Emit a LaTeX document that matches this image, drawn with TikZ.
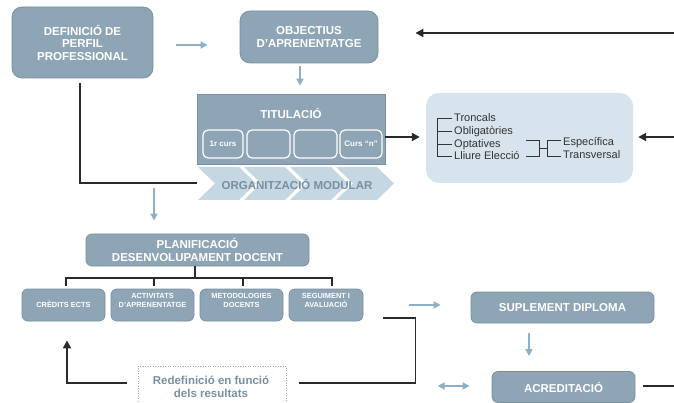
\documentclass[tikz,border=0pt]{standalone}
\usepackage{fontspec}
\setmainfont{Liberation Sans}
\usetikzlibrary{arrows.meta,calc}
\definecolor{boxfill}{HTML}{8EA5B6}
\definecolor{boxdraw}{HTML}{7A909F}
\definecolor{larr}{HTML}{8FAFC6}
\definecolor{chev}{HTML}{C6D7E4}
\definecolor{lightbox}{HTML}{D7E4ED}
\definecolor{modtxt}{HTML}{7890A2}
\definecolor{dark}{HTML}{2A2A2A}
\definecolor{listc}{HTML}{333333}
\begin{document}
\begin{tikzpicture}[x=1pt,y=-1pt,
  box/.style={rectangle, fill=boxfill, draw=boxdraw, line width=0.8pt, inner sep=0pt,
    text=white, font=\fontsize{11.5}{12.5}\selectfont\bfseries, align=center},
  boxtext/.style={inner sep=0pt, text=white, font=\fontsize{11.5}{12.5}\selectfont\bfseries, align=center},
  cursbox/.style={rectangle, rounded corners=5pt, fill=boxfill, draw=white, line width=1.2pt,
    inner sep=0pt, minimum height=28pt, text=white, font=\fontsize{8}{9}\selectfont\bfseries},
  kid/.style={box, rounded corners=6pt, minimum height=32pt},
  kidtext/.style={inner sep=0pt, text=white, font=\fontsize{7.4}{9.8}\selectfont\bfseries, align=center},
  modtext/.style={inner sep=0pt, text=modtxt, font=\fontsize{11.5}{12.5}\selectfont\bfseries},
  listtxt/.style={inner sep=0pt, anchor=west, text=listc, text height=7.9pt, text depth=0pt,
    font=\fontsize{11}{12}\selectfont},
  thinline/.style={draw=listc, line width=0.8pt},
  larrow/.style={draw=larr, line width=1.7pt, -{Triangle[length=7pt,width=7pt]}},
  ldarrow/.style={draw=larr, line width=1.7pt, {Triangle[length=7pt,width=7pt]}-{Triangle[length=7pt,width=7pt]}},
  barrow/.style={draw=dark, line width=1.9pt, -{Triangle[length=8pt,width=8pt]}},
  bline/.style={draw=dark, line width=1.9pt}
]
\useasboundingbox (0,0) rectangle (674,403);

% top row
\node[box, rounded corners=10pt, minimum width=141pt, minimum height=71pt] (def) at (82.5,42.5)
  {DEFINICIÓ DE\\PERFIL\\PROFESSIONAL};
\node[box, rounded corners=10pt, minimum width=138pt, minimum height=52pt] (obj) at (309,37)
  {OBJECTIUS\\D’APRENENTATGE};

% titulacio
\node[box, sharp corners, minimum width=188pt, minimum height=70pt] (tit) at (291,129) {};
\node[boxtext] (titl) at (291,113) {TITULACIÓ};
\node[cursbox, minimum width=40pt] (c1) at (223,144) {1r curs};
\node[cursbox, minimum width=43pt] (c2) at (268.5,144) {};
\node[cursbox, minimum width=43pt] (c3) at (315.5,144) {};
\node[cursbox, minimum width=42pt] (c4) at (361,144) {Curs “n”};

% chevrons
\foreach \i in {0,...,3}{
  \fill[chev] ({198+46*\i},167) -- ++(41,0) -- ++(17,16.5) -- ++(-17,16.5) -- ++(-41,0) -- ++(17,-16.5) -- cycle;
}
\node[modtext] (mod) at (297,184) {ORGANITZACIÓ MODULAR};

% right light box
\node[fill=lightbox, rounded corners=13pt, minimum width=207pt, minimum height=90pt, inner sep=0pt] (rb) at (529.5,138) {};
\node[listtxt] (l1) at (454,118) {Troncals};
\node[listtxt] (l2) at (454,131) {Obligatòries};
\node[listtxt] (l3) at (454,144) {Optatives};
\node[listtxt] (l4) at (454,156) {Lliure Elecció};
\node[listtxt] (e1) at (563,142) {Específica};
\node[listtxt] (e2) at (563,155) {Transversal};
\draw[thinline] ($(l1.west)+(-2,0)$) -- ++(-15,0) |- ($(l4.west)+(-2,0)$);
\draw[thinline] ($(l2.west)+(-2,0)$) -- ++(-15,0);
\draw[thinline] ($(l3.west)+(-2,0)$) -- ++(-15,0);
\draw[thinline] ($(e1.west)+(-37,-2)$) -- ($(e1.west)+(-24,-2)$) -- ($(e2.west)+(-24,1)$) -- ($(e2.west)+(-37,1)$);
\draw[thinline] ($(e1.west)+(-24,6)$) -- ($(e1.west)+(-16,6)$);
\draw[thinline] ($(e1.west)+(-2,-2)$) -- ($(e1.west)+(-16,-2)$) -- ($(e2.west)+(-16,1)$) -- ($(e2.west)+(-2,1)$);

% planificacio
\node[box, rounded corners=6pt, minimum width=223pt, minimum height=32pt] (pla) at (197.5,250)
  {PLANIFICACIÓ\\DESENVOLUPAMENT DOCENT};
\node[kid, minimum width=83pt] (k1) at (63.5,305) {};
\node[kid, minimum width=83pt] (k2) at (152.5,305) {};
\node[kid, minimum width=83pt] (k3) at (241.5,305) {};
\node[kid, minimum width=74pt] (k4) at (326,305) {};
\node[kidtext] (k1t) at (63.5,304) {CRÈDITS ECTS};
\node[kidtext] (k2t) at (152.5,300.5) {ACTIVITATS\\D’APRENENTATGE};
\node[kidtext] (k3t) at (241.5,300.5) {METODOLOGIES\\DOCENTS};
\node[kidtext] (k4t) at (326,300.5) {SEGUIMENT I\\AVALUACIÓ};

% right lower boxes
\node[box, rounded corners=6pt, minimum width=183pt, minimum height=31pt] (sup) at (562.5,307.5) {SUPLEMENT DIPLOMA};
\node[box, rounded corners=6pt, minimum width=143pt, minimum height=31pt] (acr) at (563.5,387) {ACREDITACIÓ};

% redefinicio
\node[draw=larr, line width=1pt, dash pattern=on 1pt off 1.5pt, minimum width=148pt, minimum height=37pt, inner sep=0pt] (red) at (212,384.5) {};
\node[modtext, align=center, font=\fontsize{11.5}{13}\selectfont\bfseries] (redl) at (211,386.5) {Redefinició en funció\\dels resultats};

% free ends
\coordinate (e1r) at (674,33);
\coordinate (e2r) at (674,137);
\coordinate (e3r) at (674,386);

% connectors
\draw[larrow] ($(def.east)+(23,2.5)$) -- ($(obj.west)+(-32,8)$);
\draw[barrow] (e1r) -- ($(obj.east|-e1r)+(37,0)$);
\draw[larrow] ($(obj.south)+(-9,3)$) -- ($(tit.north)+(9,-8)$);
\draw[bline] ($(def.south)+(-2.5,5)$) |- ($(tit.south west)+(0,19)$);
\draw[larrow] ($(pla.north)+(-43.5,-46)$) -- ($(pla.north)+(-43.5,-13)$);
\draw[barrow] ($(tit.east)+(0,8)$) -- ($(rb.west)+(-6,-1)$);
\draw[barrow] (e2r) -- ($(rb.east)+(5,-1)$);

% tree
\draw[bline] ($(pla.south)+(-2.5,0)$) -- ($(pla.south)+(-2.5,12)$);
\draw[bline] ($(k1.north)+(2.5,-3)$) |- ($(k4.north)+(6,-11)$) -- ($(k4.north)+(6,-3)$);
\draw[bline] ($(k2.north)+(1.5,-3)$) -- ($(k2.north)+(1.5,-11)$);
\draw[bline] ($(k3.north)+(1.5,-3)$) -- ($(k3.north)+(1.5,-11)$);

\draw[larrow] ($(k4.east)+(46,0)$) -- ($(sup.west)+(-30,-2.5)$);
\draw[larrow] ($(sup.south)+(-33.5,10)$) -- ($(acr.north)+(-34.5,-15)$);
\draw[bline] ($(acr.east)+(8,-1)$) -- (e3r);
\draw[ldarrow] ($(acr.west)+(-54,-1)$) -- ($(acr.west)+(-22,-1)$);

\draw[bline] ($(k4.south east)+(20,-3)$) -| ($(red.east)+(129,-1.5)$) -- ($(red.east)+(12,-1.5)$);
\draw[barrow] ($(red.west)+(-11,-1.5)$) -| ($(k1.south)+(3.5,19)$);
\end{tikzpicture}
\end{document}
